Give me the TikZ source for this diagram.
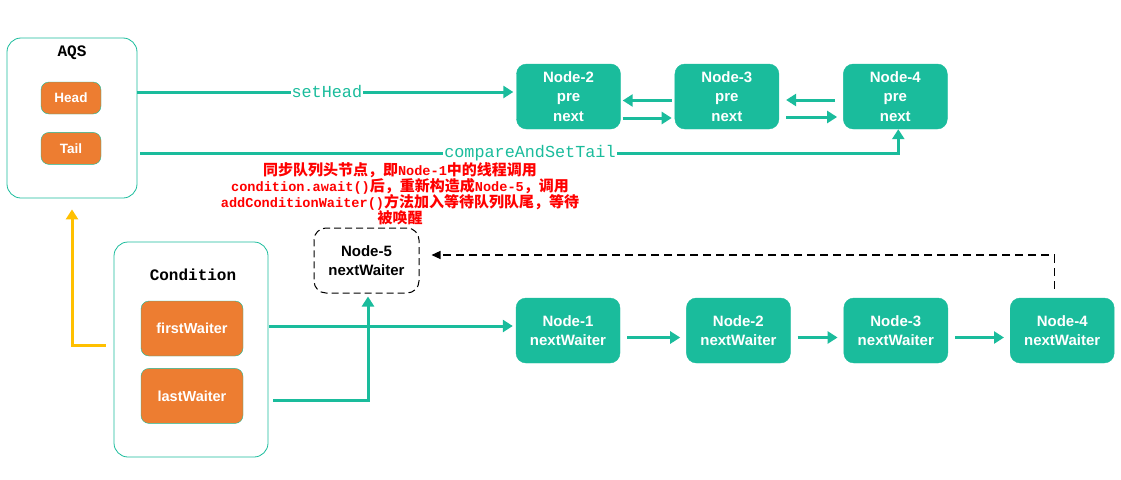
\documentclass[tikz,border=0pt]{standalone}
\usepackage{fontspec}
\setmainfont{Liberation Sans}
\newfontfamily\monofont{Liberation Mono}
\newfontfamily\cjk{Noto Sans CJK SC}
\usetikzlibrary{arrows.meta, positioning}

\definecolor{qteal}{HTML}{1ABC9C}
\definecolor{qorange}{HTML}{ED7D31}
\definecolor{qyellow}{HTML}{FFC000}

\newcommand{\lat}[1]{{\monofont\bfseries\fontsize{13.6}{16}\selectfont #1}}

\tikzset{
  qnode/.style={draw=qteal, fill=qteal, rounded corners=10pt, text=white, align=center,
    font=\bfseries\fontsize{15}{19.5}\selectfont, minimum width=104pt, minimum height=65pt, inner sep=0pt},
  waiter/.style={qnode, font=\bfseries\fontsize{15}{19}\selectfont},
  field/.style={draw=qteal, fill=qorange, rounded corners=8pt, text=white,
    font=\bfseries\fontsize{14.5}{17}\selectfont, inner sep=0pt},
  holder/.style={draw=qteal, line width=0.8pt, rounded corners=14pt, inner sep=0pt},
  title/.style={font=\monofont\bfseries\fontsize{16}{18}\selectfont},
  flow/.style={draw=qteal, line width=3pt, -{Triangle[length=10pt,width=12pt]}},
  op/.style={fill=white, text=qteal, inner sep=1pt, font=\monofont\fontsize{16.8}{18}\selectfont},
  waitline/.style={draw=black, line width=1.1pt, dash pattern=on 8pt off 5pt, -{Triangle[length=9pt,width=8pt]}},
}

\begin{document}
\begin{tikzpicture}[x=1pt, y=-1pt]
    \useasboundingbox (0,0) rectangle (1121,479);
    % AQS
    \node (aqs) [holder, minimum width=130pt, minimum height=160pt] at (72,118) {};
    \node (aqstitle) [title] at (72,53) {AQS};
    \node (head) [field, minimum width=60pt, minimum height=32pt, font=\bfseries\fontsize{13.5}{15}\selectfont] at (71,98) {Head};
    \node (tail) [field, minimum width=60pt, minimum height=32pt, font=\bfseries\fontsize{13.5}{15}\selectfont, below=18pt of head] {Tail};
    % sync queue
    \node (n2t) [qnode] at (568.5,96.5) {Node-2\\pre\\next};
    \node (n3t) [qnode, right=54pt of n2t] {Node-3\\pre\\next};
    \node (n4t) [qnode, right=64pt of n3t] {Node-4\\pre\\next};
    % Condition
    \node (cond) [holder, minimum width=154pt, minimum height=215pt] at (191,349.5) {};
    \node (condtitle) [title] at (193,275) {Condition};
    \node (first) [field, minimum width=102pt, minimum height=55pt] at (192,328.5) {firstWaiter};
    \node (last) [field, minimum width=102pt, minimum height=55pt, below=12pt of first] {lastWaiter};
    % condition queue
    \node (n5) [draw=black, line width=1pt, dash pattern=on 7pt off 4pt, rounded corners=12pt,
        minimum width=105pt, minimum height=65pt, inner sep=0pt, align=center,
        font=\bfseries\fontsize{15}{19}\selectfont] at (366.5,260.5) {Node-5\\nextWaiter};
    \node (w1) [waiter] at (568,330.5) {Node-1\\nextWaiter};
    \node (w2) [waiter, right=66pt of w1] {Node-2\\nextWaiter};
    \node (w3) [waiter, right=53pt of w2] {Node-3\\nextWaiter};
    \node (w4) [waiter, right=62pt of w3] {Node-4\\nextWaiter};
    % note
    \node (note) [text=red, align=center, font=\cjk\bfseries\fontsize{15}{16}\selectfont] at (400,194)
        {同步队列头节点，即\lat{Node-1}中的线程调用\\
         \lat{condition.await()}后，重新构造成\lat{Node-5}，调用\\
         \lat{addConditionWaiter()}方法加入等待队列队尾，等待\\
         被唤醒};

    % links
    \draw [flow, shorten >=3pt] (aqs.east |- 0,92) -- node[op] {setHead} (n2t.west |- 0,92);
    \draw [flow] ([xshift=3pt]aqs.east |- 0,153) -| node[op, pos=0.257] {compareAndSetTail} ([xshift=3pt]n4t.south);
    \draw [flow, shorten <=3pt, shorten >=2pt] ([yshift=-4pt]n3t.west) -- ([yshift=-4pt]n2t.east);
    \draw [flow, shorten <=2pt, shorten >=3pt] ([yshift=-21.5pt]n2t.east) -- ([yshift=-21.5pt]n3t.west);
    \draw [flow, shorten <=8pt, shorten >=7pt] ([yshift=-3.5pt]n4t.west) -- ([yshift=-3.5pt]n3t.east);
    \draw [flow, shorten <=7pt, shorten >=6pt] ([yshift=-20.5pt]n3t.east) -- ([yshift=-20.5pt]n4t.west);
    \foreach \a/\b in {w1/w2, w2/w3, w3/w4}
        \draw [flow, shorten <=7pt, shorten >=6pt] ([yshift=-7pt]\a.east) -- ([yshift=-7pt]\b.west);
    \draw [flow, shorten >=3pt] ([xshift=1pt]cond.east |- 0,326) -- (w1.west |- 0,326);
    \draw [flow, shorten >=3pt] ([xshift=5pt]cond.east |- 0,400) -| ([xshift=1.5pt]n5.south);
    \draw [waitline] ([xshift=-8pt,yshift=9pt]w4.north) |- ([xshift=12pt,yshift=5.5pt]n5.east);
    \draw [draw=qyellow, line width=3pt, -{Triangle[length=10pt,width=12pt]}, shorten >=11pt]
        ([xshift=-8pt]cond.west |- 0,345) -| (aqs.south);
\end{tikzpicture}
\end{document}
